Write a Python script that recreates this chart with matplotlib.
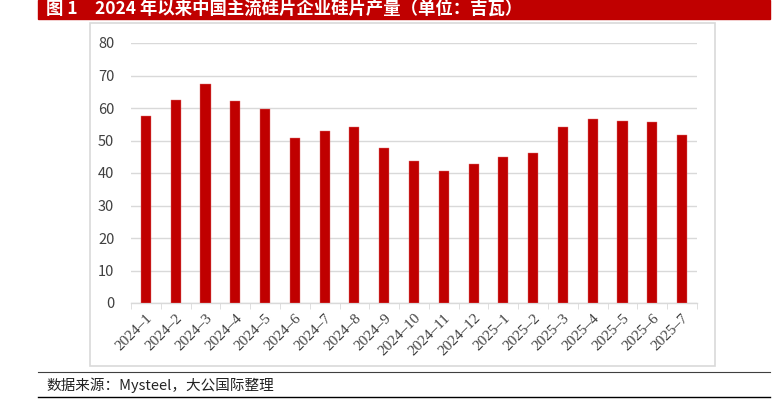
import matplotlib.pyplot as plt
import numpy as np
from matplotlib.patches import Rectangle
from matplotlib.lines import Line2D

plt.rcParams['font.family'] = ['Noto Sans CJK SC', 'DejaVu Sans']

months = ['2024–1', '2024–2', '2024–3', '2024–4', '2024–5', '2024–6', '2024–7',
          '2024–8', '2024–9', '2024–10', '2024–11', '2024–12', '2025–1',
          '2025–2', '2025–3', '2025–4', '2025–5', '2025–6', '2025–7']
output_gw = [57.6, 62.4, 67.3, 62.2, 59.7, 50.8, 53.0, 54.3, 47.8, 43.8,
             40.5, 42.9, 44.8, 46.3, 54.1, 56.6, 56.0, 55.7, 51.7]
yticks = [0, 10, 20, 30, 40, 50, 60, 70, 80]

title = '图 1　2024 年以来中国主流硅片企业硅片产量（单位：吉瓦）'
source = '数据来源：Mysteel，大公国际整理'

red = '#C00000'
grid = '#D9D9D9'

fig = plt.figure(figsize=(7.84, 3.99), dpi=100)
W, H = 784, 399

def fx(px):
    return px / W

def fy(py):
    return 1 - py / H

# title bar
fig.patches.append(Rectangle((fx(38), fy(19)), fx(770) - fx(38), fy(0) - fy(19),
                             transform=fig.transFigure, color=red, zorder=0))
fig.text(fx(46), fy(9), title, color='white', fontsize=12.5, fontweight='bold',
         va='center', ha='left')

# chart frame
fig.patches.append(Rectangle((fx(90), fy(366)), fx(715) - fx(90), fy(23) - fy(366),
                             transform=fig.transFigure, fill=False,
                             edgecolor='#D9D9D9', lw=1.2, zorder=0))

# source lines
fig.add_artist(Line2D([fx(38), fx(770)], [fy(372), fy(372)], color='#404040', lw=0.8))
fig.add_artist(Line2D([fx(38), fx(770)], [fy(397), fy(397)], color='black', lw=1.0))
fig.text(fx(46), fy(385), source, fontsize=10.5, va='center', ha='left', color='#222222')

ax = fig.add_axes([fx(131), fy(303), fx(697) - fx(131), fy(43) - fy(303)])
x = np.arange(len(months))
ax.bar(x, output_gw, width=0.34, color=red, edgecolor='#E07070', lw=0.3, zorder=3)

ax.set_xlim(-0.5, len(months) - 0.5)
ax.set_ylim(0, 80)
ax.set_yticks(yticks)
ax.yaxis.grid(True, color=grid, lw=1.0, zorder=0)
for s in ['top', 'right', 'left']:
    ax.spines[s].set_visible(False)
ax.spines['bottom'].set_color(grid)
ax.spines['bottom'].set_linewidth(1.0)
ax.tick_params(axis='y', length=0, pad=12, labelsize=10.5, labelcolor='#404040')

ax.set_xticks(x)
ax.set_xticklabels(months, rotation=45, ha='right', rotation_mode='anchor',
                   fontsize=11, family='Liberation Serif', color='#404040')
ax.set_xticks(np.arange(-0.5, len(months)), minor=True)
ax.tick_params(axis='x', which='major', length=0, pad=6)
ax.tick_params(axis='x', which='minor', length=4, color=grid)

fig.savefig('out.png', dpi=100)
